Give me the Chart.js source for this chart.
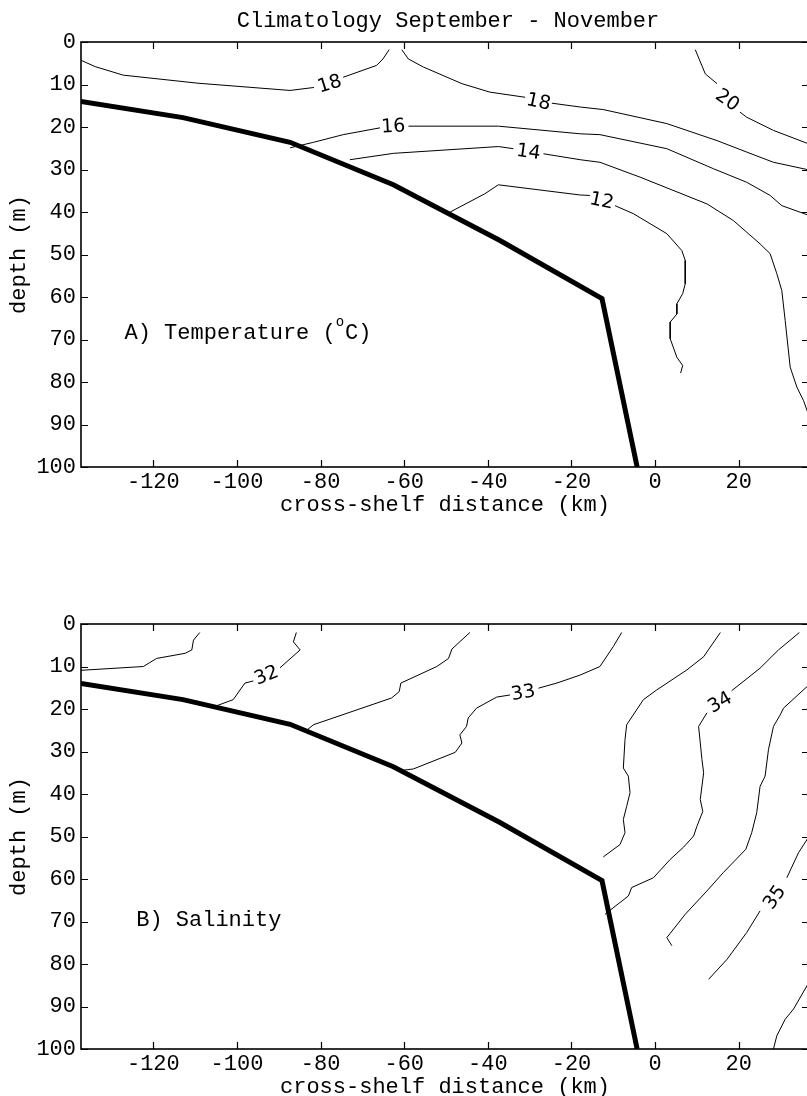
<!DOCTYPE html>
<html>
<head>
<meta charset="utf-8">
<script src="https://cdn.jsdelivr.net/npm/chart.js@4.4.1/dist/chart.umd.min.js"></script>
<style>
html, body { margin: 0; padding: 0; background: #fff; overflow: hidden; width: 807px; height: 1096px; }
canvas { position: absolute; left: 0; }
#tempChart { top: 0; }
#salChart { top: 582px; }
</style>
</head>
<body>
<canvas id="tempChart" width="809" height="530"></canvas>
<canvas id="salChart" width="809" height="530"></canvas>
<script>
// axes
const xTicks = [-120, -100, -80, -60, -40, -20, 0, 20];
const depthTicks = [0, 10, 20, 30, 40, 50, 60, 70, 80, 90, 100];
const xRange = [-137.3, 36.8];
const depthRange = [0, 100];

// shelf bottom (same in both panels): [km, m]
const bottomLine = [[-137.3, 14.0], [-112.9, 17.8], [-87.3, 23.6], [-62.6, 33.6], [-37.1, 46.7], [-12.7, 60.4], [-4.3, 100]];

// temperature contours, split where the labels sit
const t18a = [[-137.3, 4.3], [-133.9, 5.8], [-127.2, 7.8], [-109.3, 9.7], [-87.3, 11.4], [-81.6, 10.7]];
const t18b = [[-74.6, 8.3], [-66.6, 5.5], [-65.1, 4.0], [-63.6, 1.8]];
const t18c = [[-60.6, 1.8], [-59.0, 4.0], [-55.4, 5.9], [-46.2, 9.8], [-39.5, 11.8], [-31.1, 13.0]];
const t18d = [[-24.7, 14.4], [-17.9, 15.3], [-12.4, 15.9], [2.8, 19.2], [14.8, 23.2], [21.9, 25.9], [28.3, 28.3], [36.8, 30.1]];
const t20a = [[9.6, 1.8], [12.0, 7.5], [14.8, 9.8]];
const t20b = [[20.3, 16.5], [21.9, 17.7], [28.3, 20.8], [36.8, 24.0]];
const t16a = [[-87.3, 24.9], [-81.7, 23.6], [-74.6, 21.8], [-65.8, 20.2]];
const t16b = [[-59.0, 19.8], [-37.5, 19.8], [-17.9, 21.6], [-13.2, 21.8], [2.8, 25.1], [13.9, 29.8], [21.9, 33.0], [27.5, 36.1], [30.3, 38.5], [36.8, 40.8]];
const t14a = [[-73.0, 27.7], [-62.6, 26.2], [-37.5, 24.6], [-33.9, 25.1]];
const t14b = [[-26.7, 26.3], [-17.9, 27.7], [-13.2, 28.3], [-3.6, 31.8], [12.4, 38.1], [18.7, 42.0], [25.1, 47.5], [27.5, 49.8], [29.1, 54.5], [30.3, 58.5], [31.1, 65.5], [32.3, 76.5], [33.9, 81.2], [35.5, 84.4], [36.8, 88.0]];
const t12a = [[-49.0, 40.0], [-40.7, 35.7], [-37.5, 33.6], [-17.9, 36.0], [-15.6, 36.1]];
const t12b = [[-9.6, 38.5], [-5.2, 40.4], [2.8, 45.1], [6.4, 49.1], [7.2, 51.4], [7.2, 56.9], [6.6, 59.2], [5.2, 61.6], [5.2, 64.0], [3.6, 65.9], [3.6, 69.8], [5.2, 74.2], [6.6, 76.1], [6.1, 77.9]];

const tempLabelText = ["18", "18", "16", "14", "12", "20"];
const tempLabelX = [-77.8, -27.9, -62.6, -30.3, -12.8, 17.2];
const tempLabelDepth = [10.0, 14.2, 20.0, 26.0, 37.5, 13.8];

// salinity contours
const s315 = [[-137.3, 10.9], [-122.4, 10.0], [-119.2, 8.1], [-112.4, 6.9], [-110.8, 6.1], [-110.4, 3.8], [-108.9, 2.0]];
const s32a = [[-105.3, 19.4], [-100.9, 17.8], [-98.1, 13.9], [-96.1, 13.4]];
const s32b = [[-89.7, 10.3], [-84.9, 6.1], [-86.5, 4.2], [-85.8, 2.0]];
const s325 = [[-83.7, 25.3], [-81.7, 23.7], [-63.0, 17.4], [-61.2, 15.9], [-60.8, 13.9], [-52.2, 10.0], [-49.4, 8.1], [-48.6, 5.9], [-44.3, 2.0]];
const s33a = [[-60.2, 34.4], [-57.8, 34.1], [-47.8, 30.2], [-46.2, 28.0], [-46.7, 26.1], [-45.1, 24.1], [-44.7, 22.1], [-42.7, 19.8], [-37.9, 17.2], [-34.7, 16.7]];
const s33b = [[-27.9, 15.1], [-23.5, 13.9], [-17.9, 12.0], [-13.2, 10.0], [-10.0, 5.3], [-8.0, 2.0]];
const s335 = [[15.6, 2.0], [11.6, 7.7], [7.6, 10.8], [0.4, 15.5], [-2.8, 17.8], [-6.8, 23.7], [-7.2, 27.2], [-7.6, 33.9], [-6.4, 35.8], [-6.0, 39.7], [-6.8, 42.9], [-7.6, 46.0], [-7.2, 49.1], [-8.4, 51.9], [-12.4, 54.8]];
const s34a = [[34.5, 2.0], [29.5, 6.1], [25.1, 10.4], [18.3, 15.7]];
const s34b = [[12.4, 20.9], [10.4, 24.1], [11.2, 31.9], [11.6, 35.0], [10.8, 41.3], [11.4, 44.1], [10.0, 47.6], [9.2, 49.9], [6.8, 52.5], [3.6, 55.4], [-0.4, 59.7], [-5.6, 62.0], [-6.4, 64.0], [-12.0, 68.3]];
const s345 = [[36.8, 14.3], [30.7, 19.8], [29.9, 21.4], [28.3, 24.1], [27.1, 29.6], [26.3, 35.8], [25.1, 38.2], [24.3, 44.4], [23.1, 49.1], [21.7, 53.0], [16.3, 58.5], [12.4, 62.8], [7.2, 68.3], [2.8, 73.8], [4.0, 75.7]];
const s35a = [[36.8, 50.0], [34.3, 53.8], [31.5, 59.7]];
const s35b = [[25.1, 67.5], [21.9, 72.6], [17.2, 78.9], [12.8, 83.6]];
const s355 = [[36.8, 84.3], [33.1, 90.6], [31.1, 93.0], [29.1, 96.9], [28.3, 100]];

const salLabelText = ["32", "33", "34", "35"];
const salLabelX = [-92.9, -31.5, 15.6, 28.7];
const salLabelDepth = [12.2, 16.3, 18.6, 64.4];

const MONO = "'Liberation Mono', 'DejaVu Sans Mono', monospace";
const axisFont = { family: MONO, size: 22 };

const toPoints = (pairs) => pairs.map(p => ({ x: p[0], y: p[1] }));

const contourSet = (pairs) => ({
    data: toPoints(pairs),
    showLine: true,
    borderColor: "#000",
    borderWidth: 1,
    pointRadius: 0,
    tension: 0
});

const bottomSet = () => ({
    data: toPoints(bottomLine),
    showLine: true,
    borderColor: "#000",
    borderWidth: 5,
    borderJoinStyle: "miter",
    pointRadius: 0,
    tension: 0
});

// inward ticks and the frame
const framePlugin = {
    id: "frame",
    afterDraw(chart) {
        const { ctx, chartArea: a } = chart;
        const x = chart.scales.x, y = chart.scales.y;
        ctx.save();
        ctx.strokeStyle = "#000";
        ctx.lineWidth = 1.2;
        ctx.beginPath();
        xTicks.forEach(v => {
            const px = Math.round(x.getPixelForValue(v)) + 0.5;
            ctx.moveTo(px, a.top); ctx.lineTo(px, a.top + 7);
            ctx.moveTo(px, a.bottom); ctx.lineTo(px, a.bottom - 7);
        });
        depthTicks.forEach(v => {
            const py = Math.round(y.getPixelForValue(v)) + 0.5;
            ctx.moveTo(a.left, py); ctx.lineTo(a.left + 7, py);
            ctx.moveTo(a.right, py); ctx.lineTo(a.right - 7, py);
        });
        ctx.stroke();
        ctx.lineWidth = 1.6;
        ctx.strokeRect(a.left, a.top, a.right - a.left, a.bottom - a.top);
        ctx.restore();
    }
};

const makeTextPlugin = (texts, xs, depths, angles, panel, title) => ({
    id: "texts",
    afterDraw(chart) {
        const ctx = chart.ctx;
        const x = chart.scales.x, y = chart.scales.y;
        ctx.save();
        ctx.fillStyle = "#000";
        ctx.font = "19px 'DejaVu Sans', sans-serif";
        ctx.textAlign = "center";
        ctx.textBaseline = "middle";
        texts.forEach((t, i) => {
            ctx.save();
            ctx.translate(x.getPixelForValue(xs[i]), y.getPixelForValue(depths[i]));
            ctx.rotate(angles[i] * Math.PI / 180);
            ctx.fillText(t, 0, 0);
            ctx.restore();
        });
        // panel caption
        ctx.font = "22px " + MONO;
        ctx.textAlign = "left";
        let px = x.getPixelForValue(panel.x);
        const py = y.getPixelForValue(panel.depth);
        panel.parts.forEach(part => {
            if (part.sup) {
                ctx.font = "14px " + MONO;
                ctx.fillText(part.text, px, py - 10);
                px += ctx.measureText(part.text).width + 1;
                ctx.font = "22px " + MONO;
            } else {
                ctx.fillText(part.text, px, py);
                px += ctx.measureText(part.text).width;
            }
        });
        if (title) {
            ctx.font = "22px " + MONO;
            ctx.textAlign = "center";
            ctx.textBaseline = "alphabetic";
            ctx.fillText(title, (chart.chartArea.left + chart.chartArea.right) / 2 + 3, 27);
        }
        ctx.restore();
    }
});

const makeOptions = () => ({
    responsive: false,
    devicePixelRatio: 1,
    animation: false,
    events: [],
    layout: { padding: { top: 42, left: 0, right: 0, bottom: 0 } },
    plugins: { legend: { display: false }, tooltip: { enabled: false } },
    scales: {
        x: {
            type: "linear",
            position: "bottom",
            min: xRange[0],
            max: xRange[1],
            afterBuildTicks: s => { s.ticks = xTicks.map(v => ({ value: v })); },
            afterFit: s => { s.height = 63; },
            grid: { display: false, drawTicks: false },
            border: { display: false },
            ticks: { font: axisFont, color: "#000", padding: 2, autoSkip: false, maxRotation: 0, callback: v => String(v) },
            title: { display: true, text: "cross-shelf distance (km)", font: axisFont, color: "#000", padding: { top: 0, bottom: 12 } }
        },
        y: {
            type: "linear",
            position: "left",
            reverse: true,
            min: depthRange[0],
            max: depthRange[1],
            afterBuildTicks: s => { s.ticks = depthTicks.map(v => ({ value: v })); },
            afterFit: s => { s.width = 81; },
            grid: { display: false, drawTicks: false },
            border: { display: false },
            ticks: { font: axisFont, color: "#000", padding: 5, autoSkip: false, callback: v => String(v) },
            title: { display: true, text: "depth (m)", font: axisFont, color: "#000", padding: { top: 6, bottom: 0 } }
        }
    }
});

new Chart(document.getElementById("tempChart"), {
    type: "scatter",
    data: {
        datasets: [t18a, t18b, t18c, t18d, t20a, t20b, t16a, t16b, t14a, t14b, t12a, t12b].map(contourSet).concat([bottomSet()])
    },
    options: makeOptions(),
    plugins: [framePlugin, makeTextPlugin(tempLabelText, tempLabelX, tempLabelDepth, [-17, 12, -3, 8, 12, 35],
        { x: -126.9, depth: 68.4, parts: [{ text: "A) Temperature (" }, { text: "o", sup: true }, { text: "C)" }] },
        "Climatology September - November")]
});

new Chart(document.getElementById("salChart"), {
    type: "scatter",
    data: {
        datasets: [s315, s32a, s32b, s325, s33a, s33b, s335, s34a, s34b, s345, s35a, s35b, s355].map(contourSet).concat([bottomSet()])
    },
    options: makeOptions(),
    plugins: [framePlugin, makeTextPlugin(salLabelText, salLabelX, salLabelDepth, [-22, -10, -30, -55],
        { x: -124.1, depth: 69.6, parts: [{ text: "B) Salinity" }] }, null)]
});
</script>
</body>
</html>
